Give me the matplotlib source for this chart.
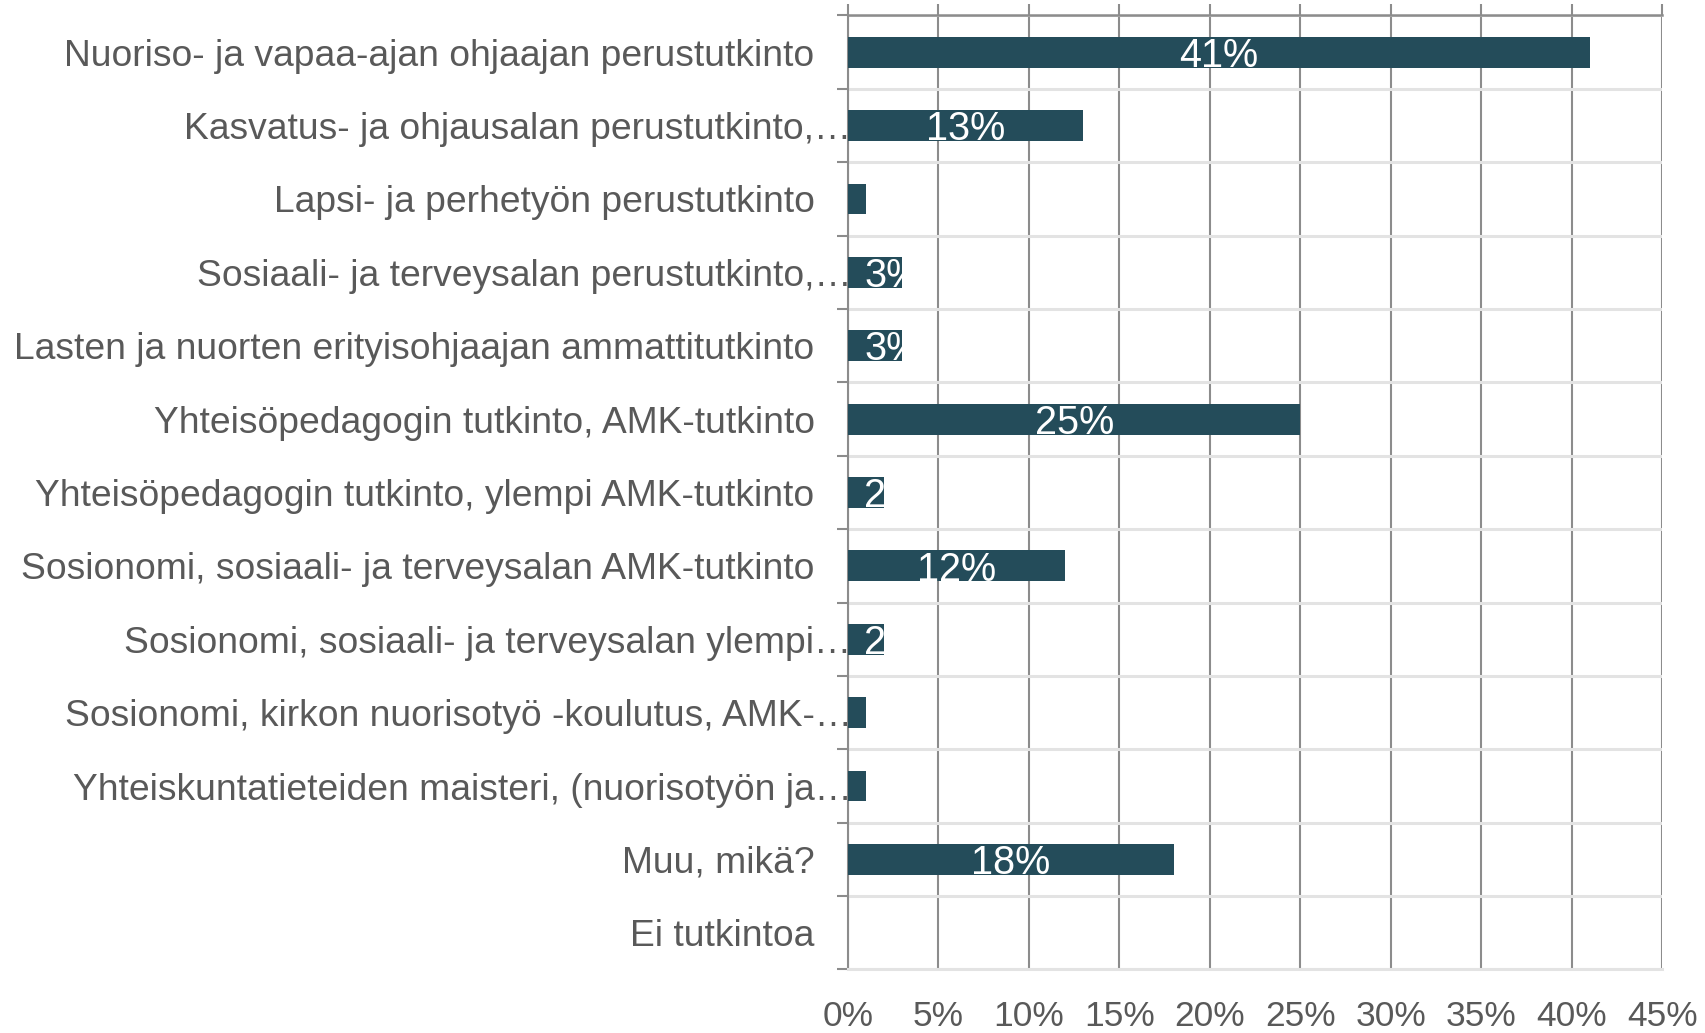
import matplotlib.pyplot as plt
from matplotlib.ticker import FixedLocator
from matplotlib.transforms import ScaledTranslation

categories = [
    "Nuoriso- ja vapaa-ajan ohjaajan perustutkinto",
    "Kasvatus- ja ohjausalan perustutkinto,…",
    "Lapsi- ja perhetyön perustutkinto",
    "Sosiaali- ja terveysalan perustutkinto,…",
    "Lasten ja nuorten erityisohjaajan ammattitutkinto",
    "Yhteisöpedagogin tutkinto, AMK-tutkinto",
    "Yhteisöpedagogin tutkinto, ylempi AMK-tutkinto",
    "Sosionomi, sosiaali- ja terveysalan AMK-tutkinto",
    "Sosionomi, sosiaali- ja terveysalan ylempi…",
    "Sosionomi, kirkon nuorisotyö -koulutus, AMK-…",
    "Yhteiskuntatieteiden maisteri, (nuorisotyön ja…",
    "Muu, mikä?",
    "Ei tutkintoa",
]
values = [41, 13, 1, 3, 3, 25, 2, 12, 2, 1, 1, 18, 0]
xticks = [0, 5, 10, 15, 20, 25, 30, 35, 40, 45]

bar_color = '#244c5a'
text_color = '#595959'
plt.rcParams['font.family'] = ['Liberation Sans', 'DejaVu Sans']

fig = plt.figure(figsize=(17.06, 10.33), dpi=100)
ax = fig.add_axes([0.497, 0.0615, 0.4775, 0.9235])

ypos = list(range(len(categories)))
bars = ax.barh(ypos, values, height=0.42, color=bar_color, zorder=3)

# labels: centred, clipped by the bar (like the source)
for b, v in zip(bars, values):
    if v < 2:
        continue
    cy = b.get_y() + b.get_height() / 2 + 0.05
    if v < 5:
        t = ax.text(0.9, cy, f"{v}%", ha='left', va='center', color='white',
                    fontsize=28.5, zorder=4)
    else:
        t = ax.text(v / 2, cy, f"{v}%", ha='center', va='center', color='white',
                    fontsize=28.5, zorder=4)
    t.set_clip_path(b)

ax.set_xlim(0, 45)
ax.set_ylim(len(categories) - 0.5, -0.5)

ax.set_yticks(ypos)
ax.set_yticklabels(categories)
ax.yaxis.set_minor_locator(FixedLocator([i - 0.5 for i in range(len(categories) + 1)]))
ax.tick_params(axis='y', which='major', length=0, pad=24, labelsize=26.8, labelcolor=text_color)
ax.tick_params(axis='y', which='minor', length=8, width=1.5, color='#8c8c8c', direction='out')

# truncated labels run past the usual right edge with their ellipsis
shift = ScaledTranslation(0.37, 0, fig.dpi_scale_trans)
for lab in ax.get_yticklabels():
    if lab.get_text().endswith('…'):
        lab.set_transform(lab.get_transform() + shift)

ax.set_xticks(xticks)
ax.set_xticklabels([f"{x}%" for x in xticks])
ax.tick_params(axis='x', which='major', bottom=False, top=True, length=8, width=1.5,
               color='#8c8c8c', labelsize=25.5, labelcolor=text_color, pad=14)

ax.grid(axis='x', color='#8c8c8c', linewidth=1.5, zorder=1)
ax.grid(axis='y', which='minor', color='#e3e3e3', linewidth=2.2, zorder=1)
ax.set_axisbelow(True)

ax.spines['right'].set_visible(False)
ax.spines['left'].set_color('#8c8c8c')
ax.spines['left'].set_linewidth(1.5)
ax.spines['top'].set_color('#8c8c8c')
ax.spines['top'].set_linewidth(1.8)
ax.spines['bottom'].set_color('#e3e3e3')
ax.spines['bottom'].set_linewidth(2.2)

fig.savefig('out.png', dpi=100)
